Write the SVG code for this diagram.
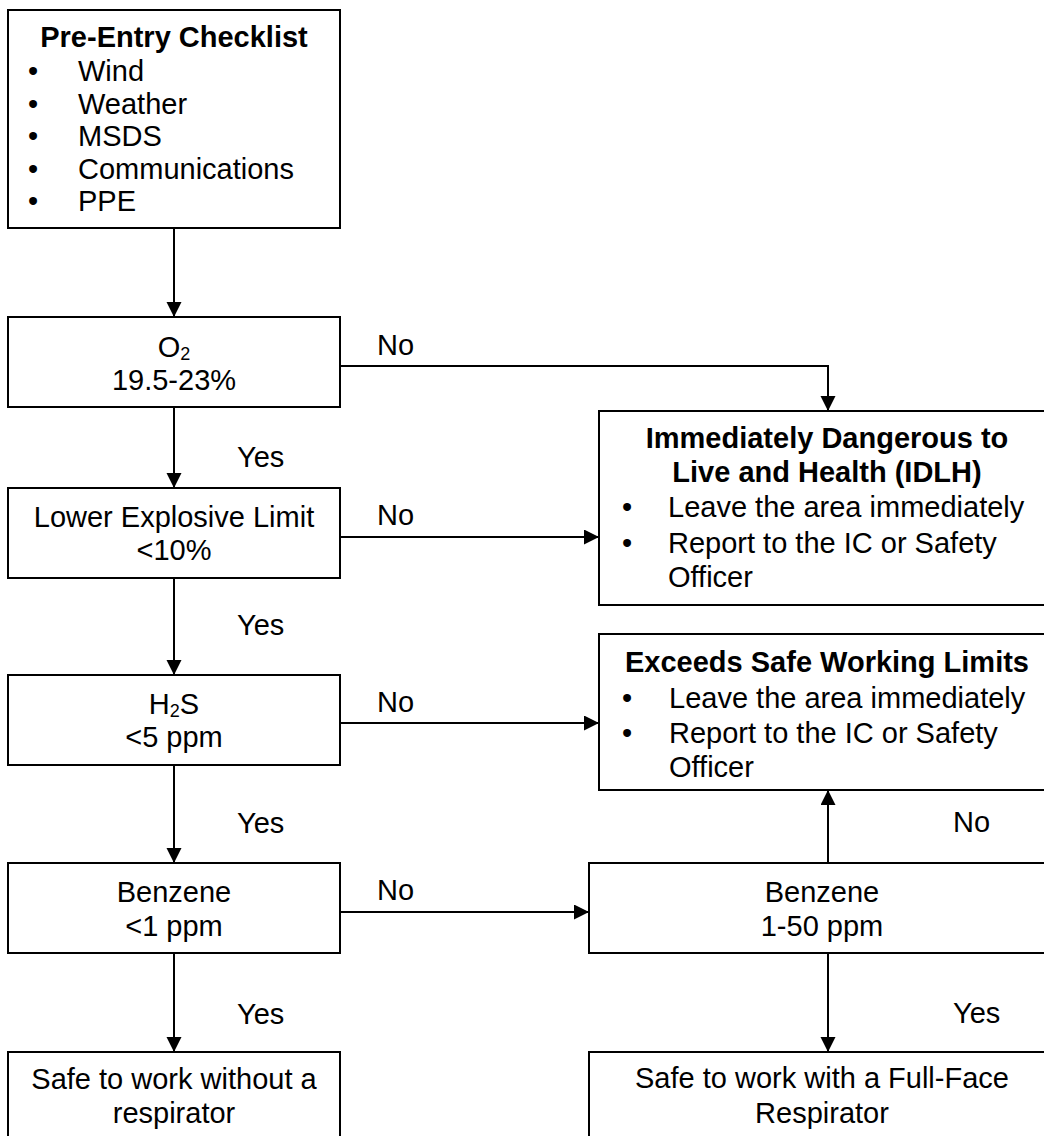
<svg xmlns="http://www.w3.org/2000/svg" width="1044" height="1136" viewBox="0 0 1044 1136">
<style>
  .box { fill: #ffffff; stroke: #000000; stroke-width: 2; }
  .t { font-family: "Liberation Sans", Arial, sans-serif; font-size: 29px; fill: #000000; }
  .c { text-anchor: middle; }
  .b { font-weight: bold; }
  .sub { font-size: 18px; }
  .ln { fill: none; stroke: #000000; stroke-width: 2; }
</style>
<defs>
  <marker id="arrow" markerUnits="userSpaceOnUse" markerWidth="16" markerHeight="16" refX="15" refY="7.5" orient="auto">
    <path d="M0,0 L15,7.5 L0,15 z" fill="#000000"/>
  </marker>
</defs>
<rect width="1044" height="1136" fill="#ffffff"/>

<g id="connectors">
  <line class="ln" x1="174" y1="228" x2="174" y2="317" marker-end="url(#arrow)"/>
  <polyline class="ln" points="340,366 828,366 828,411" marker-end="url(#arrow)"/>
  <line class="ln" x1="174" y1="407" x2="174" y2="488" marker-end="url(#arrow)"/>
  <line class="ln" x1="340" y1="537" x2="599" y2="537" marker-end="url(#arrow)"/>
  <line class="ln" x1="174" y1="578" x2="174" y2="675" marker-end="url(#arrow)"/>
  <line class="ln" x1="340" y1="723" x2="599" y2="723" marker-end="url(#arrow)"/>
  <line class="ln" x1="174" y1="765" x2="174" y2="863" marker-end="url(#arrow)"/>
  <line class="ln" x1="340" y1="912" x2="589" y2="912" marker-end="url(#arrow)"/>
  <line class="ln" x1="174" y1="953" x2="174" y2="1052" marker-end="url(#arrow)"/>
  <line class="ln" x1="828" y1="863" x2="828" y2="790" marker-end="url(#arrow)"/>
  <line class="ln" x1="828" y1="953" x2="828" y2="1052" marker-end="url(#arrow)"/>
  <text class="t" x="377" y="355">No</text>
  <text class="t" x="237" y="467">Yes</text>
  <text class="t" x="377" y="525">No</text>
  <text class="t" x="237" y="635">Yes</text>
  <text class="t" x="377" y="712">No</text>
  <text class="t" x="237" y="833">Yes</text>
  <text class="t" x="377" y="900">No</text>
  <text class="t" x="237" y="1024">Yes</text>
  <text class="t" x="953" y="832">No</text>
  <text class="t" x="953" y="1023">Yes</text>
</g>

<g id="pre-entry">
  <rect class="box" x="8" y="10" width="332" height="218"/>
  <text class="t c b" x="174" y="47">Pre-Entry Checklist</text>
  <text class="t c" x="33" y="81">•</text><text class="t" x="78" y="81">Wind</text>
  <text class="t c" x="33" y="113.5">•</text><text class="t" x="78" y="113.5">Weather</text>
  <text class="t c" x="33" y="146">•</text><text class="t" x="78" y="146">MSDS</text>
  <text class="t c" x="33" y="178.5">•</text><text class="t" x="78" y="178.5">Communications</text>
  <text class="t c" x="33" y="211">•</text><text class="t" x="78" y="211">PPE</text>
</g>

<g id="o2">
  <rect class="box" x="8" y="317" width="332" height="90"/>
  <text class="t c" x="174" y="357">O<tspan class="sub" dy="3">2</tspan></text>
  <text class="t c" x="174" y="390">19.5-23%</text>
</g>

<g id="lel">
  <rect class="box" x="8" y="488" width="332" height="90"/>
  <text class="t c" x="174" y="527">Lower Explosive Limit</text>
  <text class="t c" x="174" y="560">&lt;10%</text>
</g>

<g id="h2s">
  <rect class="box" x="8" y="675" width="332" height="90"/>
  <text class="t c" x="174" y="714">H<tspan class="sub" dy="3">2</tspan><tspan dy="-3">S</tspan></text>
  <text class="t c" x="174" y="747">&lt;5 ppm</text>
</g>

<g id="benzene-low">
  <rect class="box" x="8" y="863" width="332" height="90"/>
  <text class="t c" x="174" y="902">Benzene</text>
  <text class="t c" x="174" y="936">&lt;1 ppm</text>
</g>

<g id="safe-no-respirator">
  <rect class="box" x="8" y="1052" width="332" height="90"/>
  <text class="t c" x="174" y="1089">Safe to work without a</text>
  <text class="t c" x="174" y="1123">respirator</text>
</g>

<g id="idlh">
  <rect class="box" x="599" y="411" width="452" height="194"/>
  <text class="t c b" x="827" y="448">Immediately Dangerous to</text>
  <text class="t c b" x="827" y="482">Live and Health (IDLH)</text>
  <text class="t c" x="627" y="517">•</text><text class="t" x="668" y="517">Leave the area immediately</text>
  <text class="t c" x="627" y="553">•</text><text class="t" x="668" y="553">Report to the IC or Safety</text>
  <text class="t" x="668" y="587">Officer</text>
</g>

<g id="exceeds">
  <rect class="box" x="599" y="634" width="452" height="156"/>
  <text class="t c b" x="827" y="672">Exceeds Safe Working Limits</text>
  <text class="t c" x="627" y="708">•</text><text class="t" x="669" y="708">Leave the area immediately</text>
  <text class="t c" x="627" y="743">•</text><text class="t" x="669" y="743">Report to the IC or Safety</text>
  <text class="t" x="669" y="777">Officer</text>
</g>

<g id="benzene-mid">
  <rect class="box" x="589" y="863" width="467" height="90"/>
  <text class="t c" x="822" y="902">Benzene</text>
  <text class="t c" x="822" y="936">1-50 ppm</text>
</g>

<g id="safe-full-face">
  <rect class="box" x="589" y="1052" width="467" height="90"/>
  <text class="t c" x="822" y="1088">Safe to work with a Full-Face</text>
  <text class="t c" x="822" y="1123">Respirator</text>
</g>
</svg>
